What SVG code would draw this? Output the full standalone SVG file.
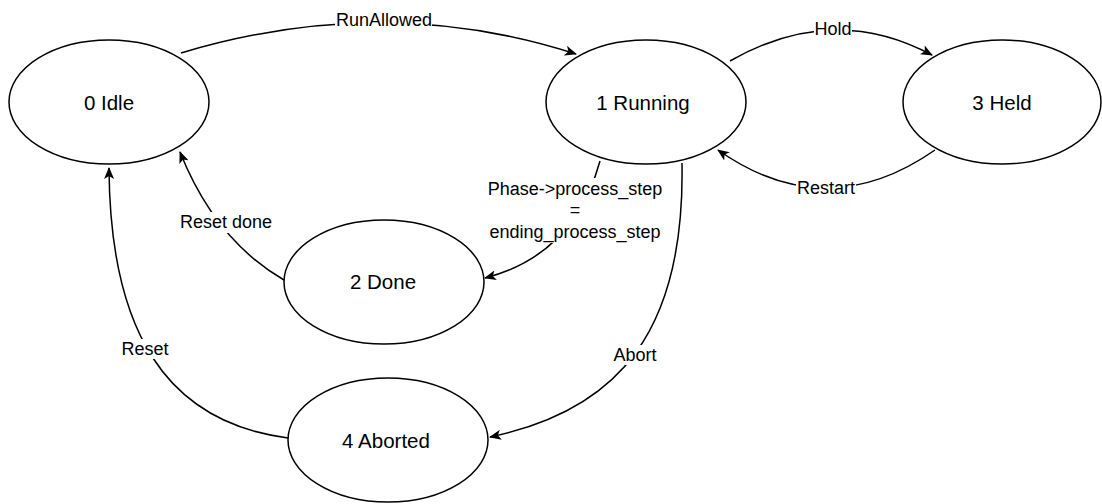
<svg xmlns="http://www.w3.org/2000/svg" width="1102" height="504" viewBox="0 0 1102 504">
  <style>
    .state ellipse { fill: #ffffff; stroke: #000000; stroke-width: 1.5; }
    .state text { font-family: "Liberation Sans", Arial, sans-serif; font-size: 20.5px; fill: #000000; text-anchor: middle; dominant-baseline: central; }
    .edge { fill: none; stroke: #000000; stroke-width: 1.5; marker-end: url(#arrow); }
    .lbl-bg { fill: #ffffff; }
    .lbl { font-family: "Liberation Sans", Arial, sans-serif; font-size: 18px; fill: #000000; text-anchor: middle; dominant-baseline: central; }
  </style>
  <defs>
    <marker id="arrow" viewBox="0 0 12 10" refX="11" refY="5" markerWidth="12" markerHeight="10" markerUnits="userSpaceOnUse" orient="auto">
      <path d="M0,0 L12,5 L0,10 L3,5 Z" fill="#000000"/>
    </marker>
  </defs>

  <rect width="1102" height="504" fill="#ffffff"/>

  <!-- transitions -->
  <g id="connectors">
    <path class="edge" d="M181,53 Q384,-8 576,54"/>
    <path class="edge" d="M730,61 Q833,2 932,55"/>
    <path class="edge" d="M935,150 Q826,226 718,150"/>
    <path class="edge" d="M600,161 Q574,255 485,278"/>
    <path class="edge" d="M682,163 C685,330 620,410 490,437"/>
    <path class="edge" d="M284,280 Q215,240 180,152"/>
    <path class="edge" d="M288,438 C165,422 110,330 109,168"/>

    <!-- transition labels -->
    <rect class="lbl-bg" x="335" y="11" width="97" height="20"/>
    <text class="lbl" x="384" y="20">RunAllowed</text>

    <rect class="lbl-bg" x="814" y="20" width="38" height="20"/>
    <text class="lbl" x="833" y="29">Hold</text>

    <rect class="lbl-bg" x="796" y="178" width="60" height="20"/>
    <text class="lbl" x="826" y="188">Restart</text>

    <rect class="lbl-bg" x="485" y="178" width="180" height="65"/>
    <text class="lbl" x="575" y="189">Phase-&gt;process_step</text>
    <text class="lbl" x="575" y="210">=</text>
    <text class="lbl" x="575" y="232">ending_process_step</text>

    <rect class="lbl-bg" x="613" y="345" width="45" height="20"/>
    <text class="lbl" x="635" y="355">Abort</text>

    <rect class="lbl-bg" x="179" y="212" width="94" height="21"/>
    <text class="lbl" x="226" y="222">Reset done</text>

    <rect class="lbl-bg" x="121" y="339" width="49" height="20"/>
    <text class="lbl" x="145" y="349">Reset</text>
  </g>

  <!-- states -->
  <g id="idle" class="state">
    <ellipse cx="109" cy="102" rx="100" ry="62"/>
    <text x="109" y="102">0 Idle</text>
  </g>
  <g id="running" class="state">
    <ellipse cx="646" cy="102" rx="100" ry="62"/>
    <text x="643" y="102">1 Running</text>
  </g>
  <g id="held" class="state">
    <ellipse cx="1002" cy="102" rx="99" ry="62"/>
    <text x="1002" y="102">3 Held</text>
  </g>
  <g id="done" class="state">
    <ellipse cx="384" cy="282" rx="100" ry="62"/>
    <text x="383" y="281">2 Done</text>
  </g>
  <g id="aborted" class="state">
    <ellipse cx="388" cy="440" rx="100" ry="62"/>
    <text x="386" y="440">4 Aborted</text>
  </g>
</svg>
